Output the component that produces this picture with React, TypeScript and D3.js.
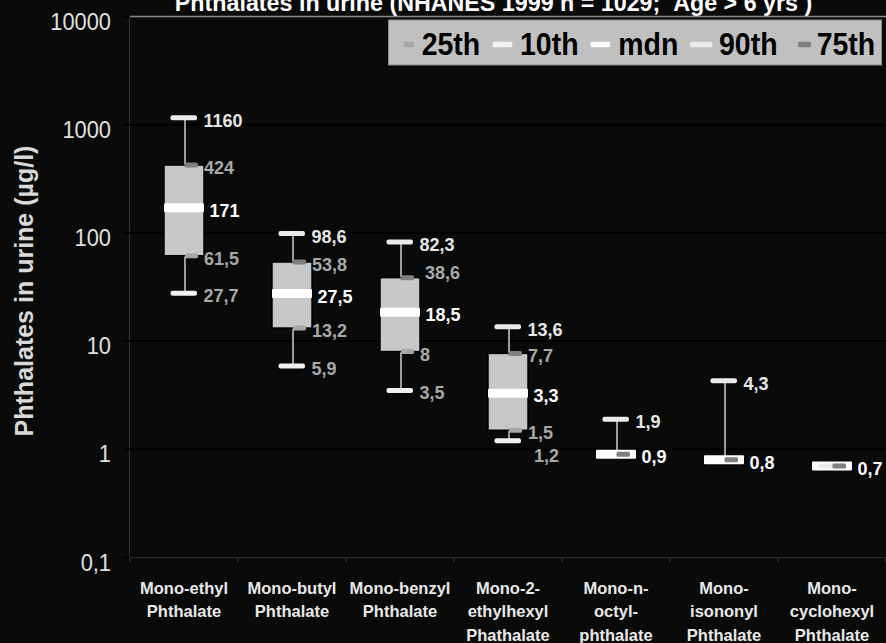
import React from 'react';
import * as d3 from 'd3';

// Urinary phthalate metabolite percentiles (µg/l), NHANES 1999
const categories: string[][] = [
  ['Mono-ethyl', 'Phthalate'],
  ['Mono-butyl', 'Phthalate'],
  ['Mono-benzyl', 'Phthalate'],
  ['Mono-2-', 'ethylhexyl', 'Phathalate'],
  ['Mono-n-', 'octyl-', 'phthalate'],
  ['Mono-', 'isononyl', 'Phthalate'],
  ['Mono-', 'cyclohexyl', 'Phthalate'],
];
const p10: (number | null)[] = [27.7, 5.9, 3.5, 1.2, null, null, null];
const p25: (number | null)[] = [61.5, 13.2, 8, 1.5, null, null, null];
const median: number[] = [171, 27.5, 18.5, 3.3, 0.9, 0.8, 0.7];
const p75: number[] = [424, 53.8, 38.6, 7.7, 0.9, 0.8, 0.7];
const p90: number[] = [1160, 98.6, 82.3, 13.6, 1.9, 4.3, 0.7];

const yTicks = [0.1, 1, 10, 100, 1000, 10000];
const legendLabels = ['25th', '10th', 'mdn', '90th', '75th'];

const W = 886;
const H = 643;
const plot = { left: 130, right: 886, top: 16.5, bottom: 557.5 };
const FONT = "'Liberation Sans', Arial, Helvetica, sans-serif";

const C = {
  bg: '#0a0a0a',
  grid: '#000000',
  border: '#8c8c8c',
  box: '#c8c8c8',
  whisker: '#9c9c9c',
  median: '#ffffff',
  cap10: '#f2f2f2',
  cap90: '#ebebeb',
  mark25: '#a6a6a6',
  mark75: '#7f7f7f',
  labelHi: '#e6e6e6',
  labelMed: '#ffffff',
  labelLo: '#a8a8a8',
  axisText: '#e0e0e0',
};

// legend layout: marker x / width, text x
const legendLayout = [
  { mx: 404, mw: 10, tx: 421.7, color: C.mark25 },
  { mx: 492.7, mw: 19.6, tx: 520, color: C.cap10 },
  { mx: 590.7, mw: 19.3, tx: 618.3, color: C.median },
  { mx: 690, mw: 22.3, tx: 719, color: C.cap90 },
  { mx: 798, mw: 13, tx: 816.7, color: C.mark75 },
];

// hand placement of two value labels that would otherwise collide
const labelNudge: Record<string, [number, number]> = {
  '2-p75': [5, -8],
  '3-p10': [6.5, 12],
};

const fmt = (v: number) => String(v).replace('.', ',');

export default function App() {
  const idx = d3.range(categories.length);
  const x = d3.scaleBand<number>().domain(idx).range([plot.left, plot.right]).padding(0);
  const y = d3.scaleLog().domain([0.1, 10000]).range([plot.bottom, plot.top]);

  const boxW = 40;
  const capL = 13.5;
  const capR = 13;

  type Lbl = { key: string; v: number; dx: number; color: string };

  return (
    <svg
      width={W}
      height={H}
      viewBox={`0 0 ${W} ${H}`}
      style={{ position: 'absolute', left: 0, top: 0, display: 'block', background: C.bg }}
      fontFamily={FONT}
    >
      <rect x={0} y={0} width={W} height={H} fill={C.bg} />

      {/* title (partly above the top edge) */}
      <text
        transform={`translate(493.5,11) scale(0.97,1)`}
        textAnchor="middle"
        fontSize={24}
        fontWeight="bold"
        fill="#ffffff"
      >
        Phthalates in urine (NHANES 1999 n = 1029;{'\u00a0\u00a0'}Age &gt; 6 yrs )
      </text>

      {/* gridlines */}
      {yTicks
        .filter((t) => t > 0.1 && t < 10000)
        .map((t) => (
          <line key={t} x1={plot.left} x2={plot.right} y1={y(t)} y2={y(t)} stroke={C.grid} strokeWidth={2} />
        ))}

      {/* plot frame */}
      <line x1={plot.left} x2={plot.right} y1={y(10000)} y2={y(10000)} stroke={C.border} strokeWidth={1.5} />
      <line x1={plot.left - 0.5} x2={plot.left - 0.5} y1={y(10000)} y2={y(0.1)} stroke="#3a3a3a" strokeWidth={1} />
      <line x1={plot.left} x2={plot.right} y1={y(0.1)} y2={y(0.1)} stroke="#2c2c2c" strokeWidth={1} />

      {/* y axis ticks and labels */}
      {yTicks.map((t) => (
        <g key={t}>
          <line x1={123} x2={130} y1={y(t)} y2={y(t)} stroke="#000" strokeWidth={2} />
          <text
            transform={`translate(111,${y(t) + 13}) scale(0.91,1)`}
            textAnchor="end"
            fontSize={24}
            fill={C.axisText}
          >
            {fmt(t)}
          </text>
        </g>
      ))}

      {/* y axis title */}
      <text
        transform={`translate(33,291) rotate(-90)`}
        textAnchor="middle"
        fontSize={25}
        fontWeight="bold"
        fill="#d9d9d9"
      >
        Phthalates in urine (µg/l)
      </text>

      {/* x axis category ticks */}
      {d3.range(categories.length + 1).map((k) => {
        const xx = plot.left + k * x.bandwidth();
        return <line key={k} x1={xx} x2={xx} y1={y(0.1)} y2={y(0.1) + 5} stroke="#2a2a2a" strokeWidth={1.5} />;
      })}

      {/* category labels */}
      {categories.map((lines, i) => {
        const cx = (x(i) as number) + x.bandwidth() / 2;
        return (
          <text key={i} textAnchor="middle" fontSize={16.5} fontWeight="bold" fill="#e8e8e8">
            {lines.map((ln, j) => (
              <tspan key={j} x={cx} y={593.5 + j * 23.5}>
                {ln}
              </tspan>
            ))}
          </text>
        );
      })}

      {/* boxes */}
      {idx.map((i) => {
        const cx = (x(i) as number) + x.bandwidth() / 2;
        const lo = p10[i] ?? p25[i] ?? median[i];
        const hi = p90[i];
        const a = p25[i];
        const b = p75[i];
        const labels: Lbl[] = [];
        if (p10[i] != null) labels.push({ key: 'p10', v: p10[i] as number, dx: 19.5, color: C.labelLo });
        if (a != null) labels.push({ key: 'p25', v: a, dx: 20, color: C.labelLo });
        labels.push({ key: 'med', v: median[i], dx: 25.5, color: C.labelMed });
        if (b !== median[i]) labels.push({ key: 'p75', v: b, dx: 20, color: C.labelLo });
        if (hi !== median[i]) labels.push({ key: 'p90', v: hi, dx: 19.5, color: C.labelHi });
        return (
          <g key={i}>
            <line x1={cx + 1} x2={cx + 1} y1={y(hi)} y2={y(lo)} stroke={C.whisker} strokeWidth={2} />
            {a != null && (
              <rect
                x={cx - boxW / 2}
                y={y(b)}
                width={boxW}
                height={y(a) - y(b)}
                fill={C.box}
                stroke="#000"
                strokeWidth={1.5}
              />
            )}
            <rect x={cx - boxW / 2} y={y(median[i]) - 4.5} width={boxW} height={9} fill={C.median} rx={1} />
            {p10[i] != null && (
              <rect x={cx - capL} y={y(p10[i] as number) - 2.5} width={capL + capR} height={5} rx={2} fill={C.cap10} />
            )}
            <rect x={cx - capL} y={y(hi) - 2.5} width={capL + capR} height={5} rx={2} fill={C.cap90} />
            {a != null && <rect x={cx + 1} y={y(a) - 2.5} width={13} height={5} rx={1.5} fill={C.mark25} />}
            <rect x={cx + 0.5} y={y(b) - 2.5} width={13.5} height={5} rx={1.5} fill={C.mark75} />
            {labels.map((l) => {
              const nudge = labelNudge[`${i}-${l.key}`] || [0, 0];
              return (
                <text
                  key={l.key}
                  x={cx + l.dx + nudge[0]}
                  y={y(l.v) + 9 + nudge[1]}
                  fontSize={18}
                  fontWeight="bold"
                  fill={l.color}
                >
                  {fmt(l.v)}
                </text>
              );
            })}
          </g>
        );
      })}

      {/* legend */}
      <rect x={388.5} y={20} width={493} height={45} fill="#c0c0c0" stroke="#8a8a8a" strokeWidth={1} />
      {legendLabels.map((lab, k) => {
        const L = legendLayout[k];
        return (
          <g key={lab}>
            <rect x={L.mx} y={41.7} width={L.mw} height={5.6} rx={1.5} fill={L.color} />
            <text
              transform={`translate(${L.tx},55) scale(0.89,1)`}
              fontSize={32}
              fontWeight="bold"
              fill="#000"
            >
              {lab}
            </text>
          </g>
        );
      })}
    </svg>
  );
}
